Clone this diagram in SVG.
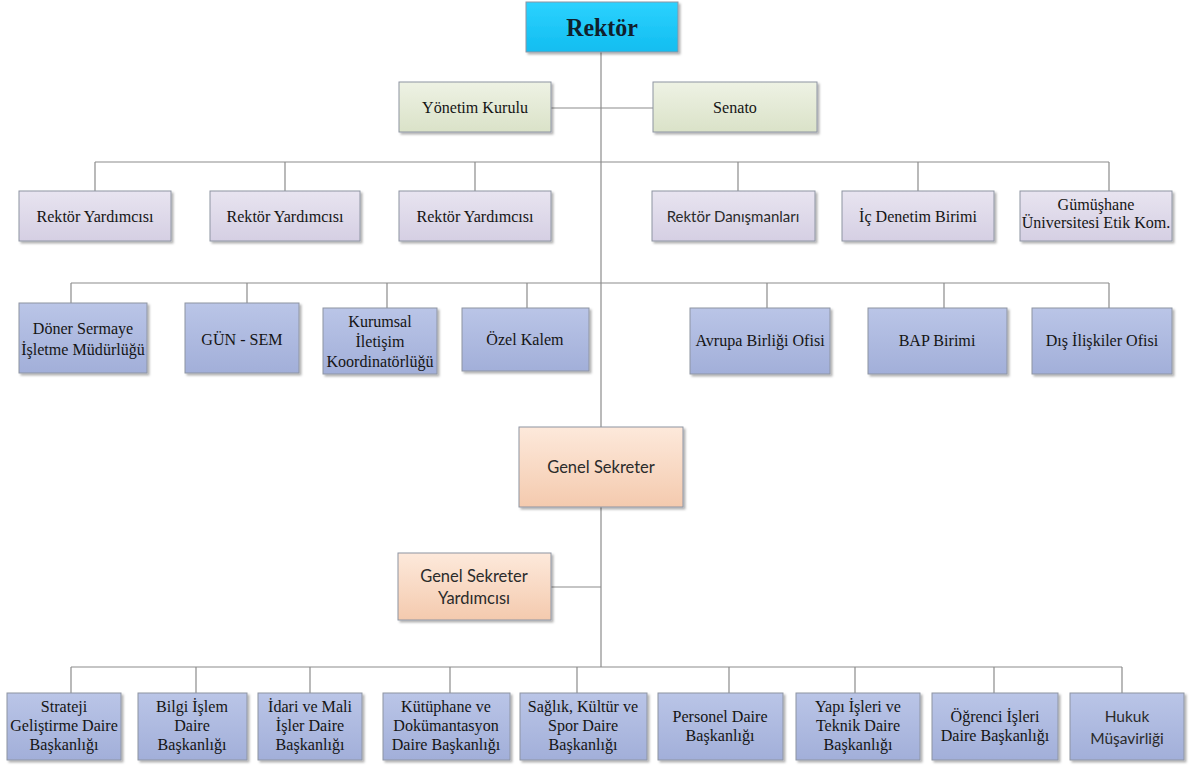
<svg xmlns="http://www.w3.org/2000/svg" width="1192" height="766" viewBox="0 0 1192 766">
<defs>
<linearGradient id="gCyan" x1="0" y1="0" x2="0" y2="1"><stop offset="0" stop-color="#2cd2ff"/><stop offset="1" stop-color="#12bdf0"/></linearGradient>
<linearGradient id="gGreen" x1="0" y1="0" x2="0" y2="1"><stop offset="0" stop-color="#eef2e4"/><stop offset="1" stop-color="#dae2c8"/></linearGradient>
<linearGradient id="gPurple" x1="0" y1="0" x2="0" y2="1"><stop offset="0" stop-color="#e8e4f0"/><stop offset="1" stop-color="#d5cfe3"/></linearGradient>
<linearGradient id="gBlue" x1="0" y1="0" x2="0" y2="1"><stop offset="0" stop-color="#bac5e7"/><stop offset="1" stop-color="#a2afd9"/></linearGradient>
<linearGradient id="gPeach" x1="0" y1="0" x2="0" y2="1"><stop offset="0" stop-color="#fde9db"/><stop offset="1" stop-color="#f4caae"/></linearGradient>
<filter id="sh" x="-10%" y="-10%" width="130%" height="140%"><feDropShadow dx="2" dy="2" stdDeviation="1.2" flood-color="#000" flood-opacity="0.3"/></filter>
</defs>
<style>
.box{stroke:#8e94a2;stroke-width:1;filter:url(#sh)}
.cyan{fill:url(#gCyan)}
.green{fill:url(#gGreen)}
.purple{fill:url(#gPurple)}
.blue{fill:url(#gBlue)}
.peach{fill:url(#gPeach)}
.t{font-family:"Liberation Serif","Times New Roman",serif;font-size:17.5px;fill:#151515;text-anchor:middle}
.s{font-family:Lato,"Open Sans",sans-serif;font-size:16.5px;fill:#2b2b2b;text-anchor:middle}
.big{font-family:"Liberation Serif","Times New Roman",serif;font-size:26px;font-weight:bold;fill:#10202c;text-anchor:middle}
.c{stroke:#8c8c8c;stroke-width:1.2;fill:none}
</style>
<rect width="1192" height="766" fill="#ffffff"/>
<g id="connectors">
<path class="c" d="M601 52V667"/>
<path class="c" d="M551 108H653"/>
<path class="c" d="M95 162H1109M95 162V191M285 162V191M475 162V191M738 162V191M918 162V191M1109 162V191"/>
<path class="c" d="M71 283H1109M71 283V303M247 283V303M387 283V308M527 283V308M767 283V308M944 283V308M1109 283V308"/>
<path class="c" d="M551 587H601"/>
<path class="c" d="M71 667H1122M71 667V693M196 667V693M310 667V693M450 667V693M577 667V693M729 667V693M855 667V693M994 667V693M1122 667V693"/>
</g>
<g id="rektor"><rect class="box cyan" x="526" y="2" width="152" height="50"/><text class="big" transform="matrix(0.92 0 0 1 602 0)" x="0" y="36">Rektör</text></g>
<g id="yonetim-kurulu"><rect class="box green" x="399" y="82" width="152" height="50"/><text class="t" transform="matrix(0.92 0 0 1 475 0)" x="0" y="113">Yönetim Kurulu</text></g>
<g id="senato"><rect class="box green" x="653" y="82" width="164" height="50"/><text class="t" transform="matrix(0.92 0 0 1 735 0)" x="0" y="113">Senato</text></g>

<g id="rektor-yardimcisi-1"><rect class="box purple" x="19" y="191" width="152" height="50"/><text class="t" transform="matrix(0.92 0 0 1 95 0)" x="0" y="222">Rektör Yardımcısı</text></g>
<g id="rektor-yardimcisi-2"><rect class="box purple" x="210" y="191" width="150" height="50"/><text class="t" transform="matrix(0.92 0 0 1 285 0)" x="0" y="222">Rektör Yardımcısı</text></g>
<g id="rektor-yardimcisi-3"><rect class="box purple" x="399" y="191" width="152" height="50"/><text class="t" transform="matrix(0.92 0 0 1 475 0)" x="0" y="222">Rektör Yardımcısı</text></g>
<g id="rektor-danismanlari"><rect class="box purple" x="652" y="191" width="163" height="50"/><text class="s" x="733" y="222" style="font-size:15px">Rektör Danışmanları</text></g>
<g id="ic-denetim"><rect class="box purple" x="842" y="191" width="152" height="50"/><text class="t" transform="matrix(0.92 0 0 1 918 0)" x="0" y="222">İç Denetim Birimi</text></g>
<g id="etik-kom"><rect class="box purple" x="1020" y="191" width="152" height="50"/><text class="t" transform="matrix(0.92 0 0 1 1096 0)" x="0" y="210">Gümüşhane</text><text class="t" transform="matrix(0.92 0 0 1 1096 0)" x="0" y="228">Üniversitesi Etik Kom.</text></g>

<g id="doner-sermaye"><rect class="box blue" x="19" y="303" width="128" height="70"/><text class="t" transform="matrix(0.92 0 0 1 83 0)" x="0" y="334">Döner Sermaye</text><text class="t" transform="matrix(0.92 0 0 1 83 0)" x="0" y="355">İşletme Müdürlüğü</text></g>
<g id="gun-sem"><rect class="box blue" x="185" y="303" width="114" height="70"/><text class="t" transform="matrix(0.92 0 0 1 242 0)" x="0" y="345">GÜN - SEM</text></g>
<g id="kurumsal-iletisim"><rect class="box blue" x="323" y="308" width="114" height="66"/><text class="t" transform="matrix(0.92 0 0 1 380 0)" x="0" y="327">Kurumsal</text><text class="t" transform="matrix(0.92 0 0 1 380 0)" x="0" y="347">İletişim</text><text class="t" transform="matrix(0.92 0 0 1 380 0)" x="0" y="367">Koordinatörlüğü</text></g>
<g id="ozel-kalem"><rect class="box blue" x="462" y="308" width="127" height="63"/><text class="t" transform="matrix(0.92 0 0 1 525 0)" x="0" y="345">Özel Kalem</text></g>
<g id="avrupa-birligi"><rect class="box blue" x="690" y="308" width="140" height="66"/><text class="t" transform="matrix(0.92 0 0 1 760 0)" x="0" y="346">Avrupa Birliği Ofisi</text></g>
<g id="bap"><rect class="box blue" x="868" y="308" width="139" height="66"/><text class="t" transform="matrix(0.92 0 0 1 937 0)" x="0" y="346">BAP Birimi</text></g>
<g id="dis-iliskiler"><rect class="box blue" x="1032" y="308" width="140" height="66"/><text class="t" transform="matrix(0.92 0 0 1 1102 0)" x="0" y="346">Dış İlişkiler Ofisi</text></g>

<g id="genel-sekreter"><rect class="box peach" x="519" y="427" width="164" height="80"/><text class="s" x="601" y="473">Genel Sekreter</text></g>
<g id="genel-sekreter-yardimcisi"><rect class="box peach" x="398" y="553" width="153" height="67"/><text class="s" x="474" y="582">Genel Sekreter</text><text class="s" x="474" y="604">Yardımcısı</text></g>

<g id="strateji"><rect class="box blue" x="7" y="693" width="114" height="67"/><text class="t" transform="matrix(0.92 0 0 1 64 0)" x="0" y="712">Strateji</text><text class="t" transform="matrix(0.92 0 0 1 64 0)" x="0" y="731">Geliştirme Daire</text><text class="t" transform="matrix(0.92 0 0 1 64 0)" x="0" y="750">Başkanlığı</text></g>
<g id="bilgi-islem"><rect class="box blue" x="138" y="693" width="109" height="67"/><text class="t" transform="matrix(0.92 0 0 1 192 0)" x="0" y="712">Bilgi İşlem</text><text class="t" transform="matrix(0.92 0 0 1 192 0)" x="0" y="731">Daire</text><text class="t" transform="matrix(0.92 0 0 1 192 0)" x="0" y="750">Başkanlığı</text></g>
<g id="idari-mali"><rect class="box blue" x="258" y="693" width="104" height="67"/><text class="t" transform="matrix(0.92 0 0 1 310 0)" x="0" y="712">İdari ve Mali</text><text class="t" transform="matrix(0.92 0 0 1 310 0)" x="0" y="731">İşler Daire</text><text class="t" transform="matrix(0.92 0 0 1 310 0)" x="0" y="750">Başkanlığı</text></g>
<g id="kutuphane"><rect class="box blue" x="383" y="693" width="127" height="67"/><text class="t" transform="matrix(0.92 0 0 1 446 0)" x="0" y="712">Kütüphane ve</text><text class="t" transform="matrix(0.92 0 0 1 446 0)" x="0" y="731">Dokümantasyon</text><text class="t" transform="matrix(0.92 0 0 1 446 0)" x="0" y="750">Daire Başkanlığı</text></g>
<g id="saglik-kultur"><rect class="box blue" x="520" y="693" width="127" height="67"/><text class="t" transform="matrix(0.92 0 0 1 583 0)" x="0" y="712">Sağlık, Kültür ve</text><text class="t" transform="matrix(0.92 0 0 1 583 0)" x="0" y="731">Spor Daire</text><text class="t" transform="matrix(0.92 0 0 1 583 0)" x="0" y="750">Başkanlığı</text></g>
<g id="personel"><rect class="box blue" x="658" y="693" width="125" height="67"/><text class="t" transform="matrix(0.92 0 0 1 720 0)" x="0" y="722">Personel Daire</text><text class="t" transform="matrix(0.92 0 0 1 720 0)" x="0" y="741">Başkanlığı</text></g>
<g id="yapi-isleri"><rect class="box blue" x="796" y="693" width="124" height="67"/><text class="t" transform="matrix(0.92 0 0 1 858 0)" x="0" y="712">Yapı İşleri ve</text><text class="t" transform="matrix(0.92 0 0 1 858 0)" x="0" y="731">Teknik Daire</text><text class="t" transform="matrix(0.92 0 0 1 858 0)" x="0" y="750">Başkanlığı</text></g>
<g id="ogrenci-isleri"><rect class="box blue" x="932" y="693" width="126" height="67"/><text class="t" transform="matrix(0.92 0 0 1 995 0)" x="0" y="722">Öğrenci İşleri</text><text class="t" transform="matrix(0.92 0 0 1 995 0)" x="0" y="741">Daire Başkanlığı</text></g>
<g id="hukuk"><rect class="box blue" x="1070" y="693" width="114" height="67"/><text class="s" x="1127" y="722" style="font-size:15.5px">Hukuk</text><text class="s" x="1127" y="744" style="font-size:15.5px">Müşavirliği</text></g>
</svg>
